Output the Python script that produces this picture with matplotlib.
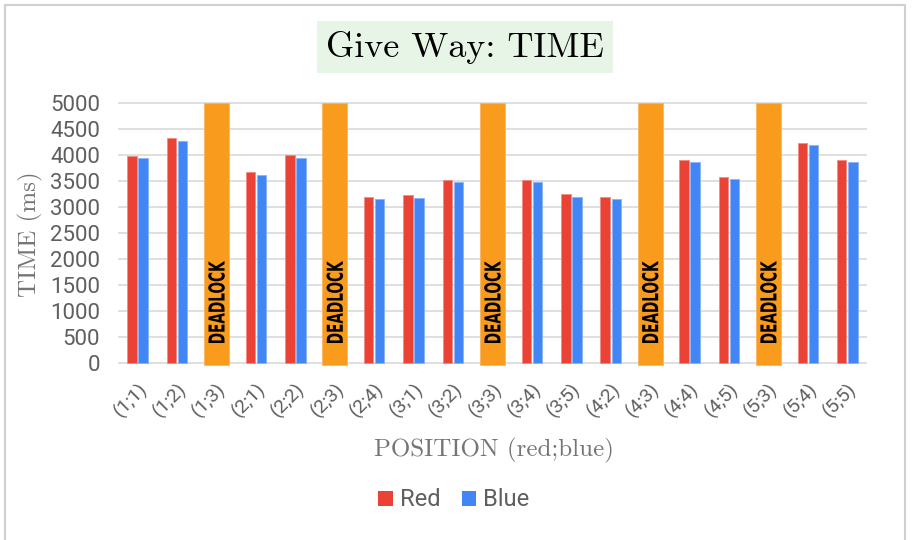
import matplotlib
matplotlib.use("Agg")
import matplotlib.pyplot as plt
from matplotlib.patches import Patch, Rectangle, PathPatch
from matplotlib.textpath import TextPath
from matplotlib.font_manager import FontProperties
import matplotlib.transforms as mtransforms
import numpy as np

categories = ["(1;1)", "(1;2)", "(1;3)", "(2;1)", "(2;2)", "(2;3)", "(2;4)",
              "(3;1)", "(3;2)", "(3;3)", "(3;4)", "(3;5)", "(4;2)", "(4;3)",
              "(4;4)", "(4;5)", "(5;3)", "(5;4)", "(5;5)"]
red = [3990, 4330, None, 3670, 4000, None, 3200, 3225, 3525, None, 3525,
       3245, 3200, None, 3900, 3585, None, 4240, 3900]
blue = [3940, 4270, None, 3620, 3940, None, 3150, 3180, 3480, None, 3480,
        3190, 3150, None, 3865, 3530, None, 4185, 3860]
deadlock = [None, None, 5000, None, None, 5000, None, None, None, 5000, None,
            None, None, 5000, None, None, 5000, None, None]
deadlock_label = "DEADLOCK"
yticks = list(range(0, 5001, 500))

RED = "#ea4335"
BLUE = "#4285f4"
ORANGE = "#f99b1c"
GREY = "#5f5f5f"

fig = plt.figure(figsize=(9.13, 5.40), dpi=100)
ax = fig.add_axes([0.1292, 0.3181, 0.8204, 0.4960])

x = np.arange(len(categories))
bw = 0.24
off = 0.14
rx = [xi for xi, v in zip(x, red) if v is not None]
rv = [v for v in red if v is not None]
bx = [xi for xi, v in zip(x, blue) if v is not None]
bv = [v for v in blue if v is not None]
ax.bar(np.array(rx) - off, rv, width=bw, color=RED, edgecolor="#f28b82", linewidth=0.6, zorder=3, label="Red")
ax.bar(np.array(bx) + off, bv, width=bw, color=BLUE, edgecolor="#8ab4f8", linewidth=0.6, zorder=3, label="Blue")

dx = [xi for xi, v in zip(x, deadlock) if v is not None]
dv = [v for v in deadlock if v is not None]
base = -40
ax.bar(dx, np.array(dv) - base, bottom=base, width=0.64, color=ORANGE,
       edgecolor="#fbb45c", linewidth=0.6, zorder=3)

ax.set_xlim(-0.5, len(categories) - 0.5)
ax.set_ylim(-100, 5050)

# condensed bold "DEADLOCK" labels (path text squeezed horizontally)
tp = TextPath((0, 0), deadlock_label, size=22,
              prop=FontProperties(family="DejaVu Sans", weight="bold"))
ext = tp.get_extents()
shape = (mtransforms.Affine2D()
         .translate(-ext.x0, -(ext.y0 + ext.y1) / 2)
         .scale(82.0 / ext.width, 1.0)
         .rotate_deg(90))
for xi in dx:
    px, py = ax.transData.transform((xi, 385))
    pp = PathPatch(tp, facecolor="black", edgecolor="none",
                   transform=shape + mtransforms.Affine2D().translate(px, py),
                   zorder=4, clip_on=False)
    ax.add_artist(pp)

ax.set_yticks(yticks)
ax.set_yticklabels([str(t) for t in yticks], fontsize=16, color=GREY, family="Roboto")
ax.set_xticks(x)
ax.set_xticklabels(categories, rotation=45, ha="right", va="top", rotation_mode="anchor",
                   fontsize=14, color=GREY, family="Roboto")
ax.tick_params(axis="both", length=0)
ax.tick_params(axis="y", pad=13)
ax.tick_params(axis="x", pad=8)
for s in ax.spines.values():
    s.set_visible(False)
ax.grid(axis="y", color="#d9d9d9", linewidth=1.2, zorder=0)
ax.set_axisbelow(True)

ax.set_ylabel("TIME (ms)", fontsize=18, color="#757575", family="cmr10", labelpad=5)
fig.text(0.541, 1 - 450 / 540, "POSITION (red;blue)", fontsize=18, color="#757575",
         family="cmr10", ha="center", va="center")

fig.text(0.509, 1 - 47 / 540, "Give Way: TIME", fontsize=26, family="cmr10", color="black",
         ha="center", va="center",
         bbox=dict(boxstyle="square,pad=0.25", facecolor="#e6f5e6", edgecolor="none"))

handles = [Patch(facecolor=RED, edgecolor="none"), Patch(facecolor=BLUE, edgecolor="none")]
leg = fig.legend(handles, ["Red", "Blue"], loc="center", bbox_to_anchor=(0.497, 1 - 500 / 540),
                 ncol=2, frameon=False, handlelength=0.6, handleheight=0.6,
                 handletextpad=0.3, columnspacing=0.9,
                 prop={"family": "Roboto", "size": 17})
for t in leg.get_texts():
    t.set_color(GREY)

fig.patches.append(Rectangle((0.006, -0.01), 0.985, 1.0, transform=fig.transFigure,
                             fill=False, edgecolor="#d0d0d0", linewidth=1.5))

fig.savefig("out.png", dpi=100)
